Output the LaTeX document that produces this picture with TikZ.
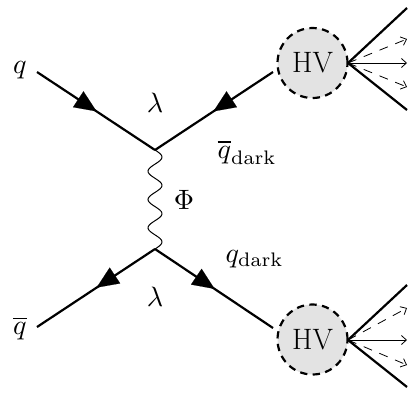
\documentclass[tikz,border=0pt]{standalone}
\DeclareMathSizes{10}{10}{7}{5}
\usetikzlibrary{arrows.meta,decorations.markings}
\definecolor{blobgray}{HTML}{E3E3E3}
\tikzset{
  x=1pt,y=-1pt,
  fermion/.style={line width=2.2pt,postaction={decorate},decoration={markings,mark=at position #1 with {\arrow[line width=.1pt]{Triangle[length=22pt,width=19pt]}}}},
  jetline/.style={line width=2.2pt},
  thinarrow/.style={line width=.9pt,-{Straight Barb[length=5pt,width=9pt,line width=.8pt]}},
  dasharrow/.style={line width=.8pt,dash pattern=on 9pt off 8pt,-{Straight Barb[length=5pt,width=9pt,line width=.8pt]}},
  blob/.style={circle,draw,fill=blobgray,line width=2.2pt,dash pattern=on 7.3pt off 5.4pt,minimum size=70pt,inner sep=0pt,font=\fontsize{29.5}{34}\selectfont},
  lbl/.style={inner sep=0pt,scale=2.8},
  wig/.style={line width=1pt,smooth}
}
\begin{document}
\begin{tikzpicture}
\useasboundingbox[fill=white] (0,0) rectangle (417,392);
\coordinate (vt) at (155,150);
\coordinate (vb) at (155,249);
\coordinate (qin) at (37,72);
\coordinate (qbarin) at (37,327);
\coordinate (hvtl) at (273,72);
\coordinate (hvbl) at (273,328);
\node[blob] (hvt) at (312.5,63) {HV};
\node[blob] (hvb) at (312.5,339.5) {HV};
\coordinate (ts) at (348,63);
\coordinate (bs) at (348,340);
\coordinate (t1) at (407,8);
\coordinate (t2) at (407,39);
\coordinate (t3) at (407,63);
\coordinate (t4) at (407,87);
\coordinate (t5) at (407,110);
\coordinate (b1) at (407,285);
\coordinate (b2) at (407,308);
\coordinate (b3) at (407,340);
\coordinate (b4) at (407,365);
\coordinate (b5) at (407,387);
\draw[fermion=.505] (qin) -- (vt);
\draw[fermion=.505] (hvtl) -- (vt);
\draw[fermion=.495] (vb) -- (qbarin);
\draw[fermion=.505] (vb) -- (hvbl);
\draw[wig,shift={(vt)},domain=0:99,samples=67,variable=\t] plot ({7*sin(\t*12.7273)},{\t});
\draw[jetline] (ts) -- (t1);
\draw[jetline] (ts) -- (t5);
\draw[jetline] (bs) -- (b1);
\draw[jetline] (bs) -- (b5);
\draw[thinarrow] (ts) -- (t3);
\draw[thinarrow] (bs) -- (b3);
\draw[dasharrow] (ts) -- (t2);
\draw[dasharrow] (ts) -- (t4);
\draw[dasharrow] (bs) -- (b2);
\draw[dasharrow] (bs) -- (b4);
\node[lbl] (lq) at (20,70) {$q$};
\node[lbl] (lqb) at (20,328) {$\overline{q}$};
\node[lbl] (l1) at (155,103) {$\lambda$};
\node[lbl] (l2) at (155,297) {$\lambda$};
\node[lbl] (lphi) at (184,200) {$\Phi$};
\node[lbl,anchor=base west] (lqbd) at (217,158) {$\overline{q}_{\mathrm{dark}}$};
\node[lbl,anchor=base west] (lqd) at (225,262) {$q_{\mathrm{dark}}$};
\end{tikzpicture}
\end{document}
